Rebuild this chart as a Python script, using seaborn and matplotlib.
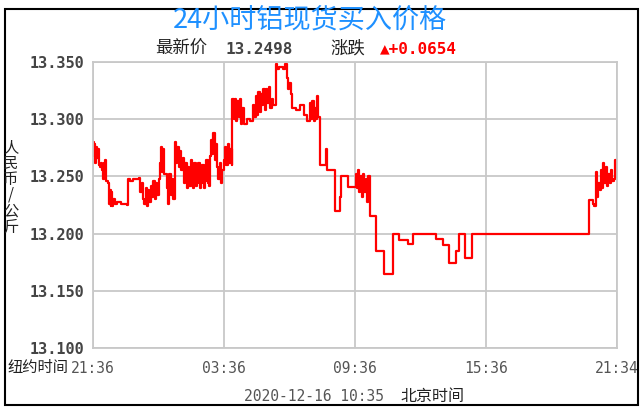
import matplotlib
matplotlib.use('Agg')
import matplotlib.pyplot as plt
import matplotlib.patches as patches
import pandas as pd
import seaborn as sns

# hours after 21:36 (New York time) and buy price
hours = [
    0.00, 0.05, 0.08, 0.12, 0.16, 0.20, 0.24, 0.28, 0.33, 0.38, 0.42, 0.46, 0.50, 0.54, 0.58, 0.62,
    0.70, 0.74, 0.78, 0.82, 0.86, 0.90, 0.95, 1.02, 1.10, 1.30, 1.55,
    1.63, 1.70, 1.85, 2.10, 2.18, 2.24, 2.30, 2.36, 2.42, 2.48, 2.54, 2.60, 2.66, 2.72, 2.78, 2.84,
    2.90, 2.96, 3.04, 3.08, 3.12, 3.16, 3.22, 3.28, 3.39, 3.45, 3.51, 3.57, 3.63, 3.69,
    3.77, 3.82, 3.88, 3.94, 4.00, 4.06, 4.12, 4.18, 4.24, 4.30, 4.36, 4.42, 4.48, 4.54, 4.60, 4.66,
    4.72, 4.78, 4.84, 4.90, 4.96, 5.02, 5.08, 5.14, 5.20, 5.26, 5.32, 5.37, 5.42, 5.47, 5.52, 5.58,
    5.64, 5.70, 5.76, 5.82, 5.88, 5.94, 6.00, 6.06, 6.12, 6.18, 6.24, 6.30, 6.36,
    6.40, 6.45, 6.50, 6.56, 6.62, 6.68, 6.74, 6.80, 6.86, 6.92, 7.05, 7.20,
    7.35, 7.40, 7.46, 7.52, 7.58, 7.64, 7.70, 7.76, 7.82, 7.88, 7.94, 8.00, 8.08, 8.14, 8.20, 8.28,
    8.40, 8.46, 8.55, 8.70, 8.80, 8.88, 8.94, 9.00, 9.06, 9.12, 9.30, 9.50, 9.66, 9.80,
    9.95, 10.00, 10.06, 10.12, 10.18, 10.22, 10.28, 10.34, 10.40, 10.70, 10.73, 10.90, 11.08,
    11.32, 11.36, 11.70, 12.08, 12.12, 12.16, 12.20, 12.26, 12.32, 12.38, 12.44, 12.50, 12.56, 12.62,
    12.68, 12.98, 13.32, 13.36, 13.74, 14.05, 14.43, 14.66, 15.73, 16.03, 16.30, 16.34, 16.64,
    16.76, 17.07, 17.37, 22.71, 22.92, 22.97, 23.04, 23.06, 23.10, 23.16, 23.22, 23.28, 23.32,
    23.38, 23.44, 23.50, 23.56, 23.62, 23.68, 23.74, 23.80, 23.86, 23.92, 23.95, 24.00,
]
prices = [
    13.280, 13.268, 13.278, 13.262, 13.276, 13.266, 13.274, 13.260, 13.258, 13.262, 13.256, 13.248,
    13.262, 13.250, 13.264, 13.246,
    13.244, 13.226, 13.238, 13.224, 13.236, 13.224, 13.230, 13.226, 13.228, 13.226, 13.225,
    13.248, 13.246, 13.248, 13.249, 13.236, 13.244, 13.230, 13.226, 13.240, 13.224, 13.238, 13.228,
    13.242, 13.232, 13.246, 13.230,
    13.244, 13.234, 13.248, 13.262, 13.276, 13.254, 13.274, 13.252, 13.240, 13.226, 13.252, 13.234,
    13.248, 13.230,
    13.280, 13.262, 13.276, 13.258, 13.272, 13.256, 13.266, 13.244, 13.262, 13.240, 13.258, 13.242,
    13.264, 13.244, 13.240, 13.262,
    13.242, 13.244, 13.262, 13.240, 13.244, 13.260, 13.240, 13.246, 13.264, 13.244, 13.242, 13.268,
    13.282, 13.270, 13.288, 13.264,
    13.278, 13.258, 13.248, 13.262, 13.244, 13.256, 13.264, 13.276, 13.260, 13.278, 13.262, 13.274,
    13.260,
    13.318, 13.300, 13.318, 13.298, 13.316, 13.302, 13.318, 13.296, 13.310, 13.296, 13.300, 13.298,
    13.312, 13.302, 13.320, 13.304, 13.324, 13.306, 13.322, 13.312, 13.326, 13.308, 13.326, 13.314,
    13.328, 13.310, 13.318, 13.312,
    13.348, 13.344, 13.346, 13.344, 13.348, 13.336, 13.326, 13.332, 13.322, 13.310, 13.308, 13.312,
    13.304, 13.298,
    13.314, 13.300, 13.316, 13.298, 13.310, 13.300, 13.320, 13.302, 13.260, 13.274, 13.256, 13.256,
    13.220,
    13.232, 13.250, 13.241, 13.252, 13.240, 13.256, 13.236, 13.250, 13.232, 13.252, 13.236, 13.248,
    13.228, 13.250,
    13.215, 13.185, 13.178, 13.165, 13.200, 13.194, 13.191, 13.200, 13.195, 13.190, 13.182, 13.174,
    13.185,
    13.200, 13.179, 13.200, 13.229, 13.226, 13.224, 13.236, 13.254, 13.232, 13.244, 13.238, 13.256,
    13.240,
    13.262, 13.244, 13.258, 13.242, 13.252, 13.244, 13.256, 13.246, 13.248, 13.264, 13.2498, 13.2498,
]

x_ticks = [0, 6, 12, 18, 24]
x_labels = ['21:36', '03:36', '09:36', '15:36', '21:34']
y_ticks = [13.10, 13.15, 13.20, 13.25, 13.30, 13.35]

title = '24小时铝现货买入价格'
latest_price = '13.2498'
change = '▲+0.0654'
stamp = '2020-12-16 10:35'

sns.set_style('white')
plt.rcParams['font.family'] = ['Noto Sans CJK SC', 'DejaVu Sans']

df = pd.DataFrame({'hour': hours, 'price': prices})

fig = plt.figure(figsize=(6.43, 4.15), dpi=100)
ax = fig.add_axes([0.1442, 0.1614, 0.8149, 0.6892])

sns.lineplot(data=df, x='hour', y='price', ax=ax, color='#ff0000', linewidth=1.6,
             drawstyle='steps-post', estimator=None, sort=False)

ax.set_xlim(0, 24)
ax.set_ylim(13.10, 13.35)
ax.set_xticks(x_ticks)
ax.set_xticklabels(x_labels)
ax.set_yticks(y_ticks)
ax.set_yticklabels([f'{v:.3f}' for v in y_ticks])
ax.set_xlabel('')
ax.set_ylabel('')
ax.grid(True, color='#c8c8c8', linewidth=1.3)
for sp in ax.spines.values():
    sp.set_color('#c8c8c8')
    sp.set_linewidth(1.3)
ax.tick_params(axis='both', length=0)
ax.tick_params(axis='y', pad=6)
ax.tick_params(axis='x', pad=9)
for lab in ax.get_yticklabels():
    lab.set_family('DejaVu Sans Mono')
    lab.set_fontweight('bold')
    lab.set_fontsize(11)
    lab.set_color('#444444')
for lab in ax.get_xticklabels():
    lab.set_family('DejaVu Sans Mono')
    lab.set_fontsize(10.5)
    lab.set_color('#555555')

W, H = 643, 415


def fx(px):
    return px / W


def fy(py):
    return 1 - py / H


# header
fig.text(fx(310), fy(20), title, color='#1e90ff', fontsize=19.5, fontweight='medium',
         ha='center', va='center')
fig.text(fx(155), fy(49), '最新价', color='#222222', fontsize=12.5, ha='left', va='center')
fig.text(fx(226), fy(49), latest_price, color='#444444', fontsize=11.5, fontweight='bold',
         family='DejaVu Sans Mono', ha='left', va='center')
fig.text(fx(330), fy(49), '涨跌', color='#222222', fontsize=12.5, ha='left', va='center')
fig.text(fx(380), fy(49), change, color='#ff0000', fontsize=11.5, fontweight='bold',
         family=['DejaVu Sans Mono', 'DejaVu Sans'], ha='left', va='center')

# axis captions
fig.text(fx(11), fy(187), '\n'.join('人民币/公斤'), color='#222222', fontsize=11,
         ha='center', va='center', linespacing=0.92)
fig.text(fx(7), fy(367), '纽约时间', color='#222222', fontsize=11, ha='left', va='center')
fig.text(fx(244), fy(396), stamp, color='#555555', fontsize=10.5, family='DejaVu Sans Mono',
         ha='left', va='center')
fig.text(fx(400), fy(396), '北京时间', color='#222222', fontsize=11.5, ha='left', va='center')

# outer frame
fig.patches.append(patches.Rectangle((fx(5), fy(405)), fx(633), 396 / H, transform=fig.transFigure,
                                     fill=False, edgecolor='black', linewidth=1.5))

fig.savefig('out.png', dpi=100)
